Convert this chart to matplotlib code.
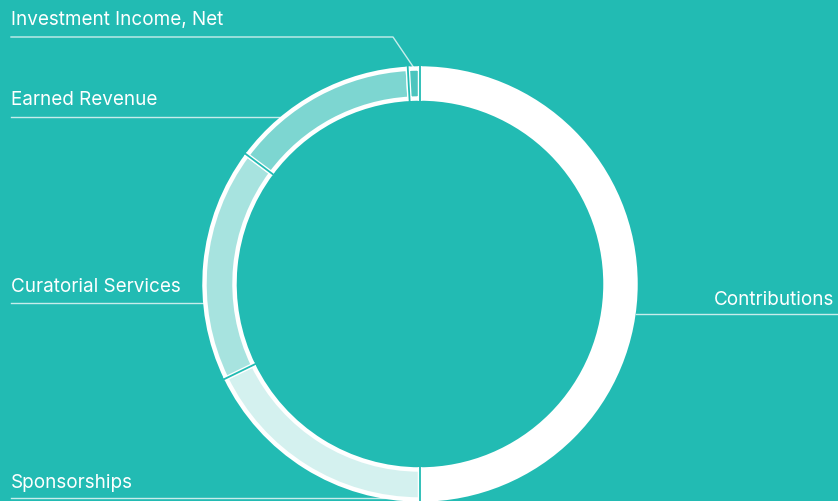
import matplotlib.pyplot as plt
import numpy as np

# revenue breakdown, clockwise from 12 o'clock
labels = ['Contributions', 'Sponsorships', 'Curatorial Services', 'Earned Revenue', 'Investment Income, Net']
shares = [50.0, 17.8, 17.4, 13.9, 0.9]
colors = ['#ffffff', '#d4f1ef', '#a7e3df', '#7dd6d1', '#4cc5be']

bg = '#22bbb3'
W, H = 838, 502

plt.rcParams['font.family'] = ['Inter', 'DejaVu Sans']

fig = plt.figure(figsize=(W / 100, H / 100), dpi=100, facecolor=bg)
ax = fig.add_axes([0, 0, 1, 1])
ax.set_facecolor(bg)

cx, cy, r, w = 420, H - 285, 215.5, 30
wedges, _ = ax.pie(shares, colors=colors, startangle=90, counterclock=False,
                   center=(cx, cy), radius=r,
                   wedgeprops=dict(width=w, edgecolor='white', linewidth=3.2))

# thin gaps between segments
for wd in wedges:
    a = np.deg2rad(wd.theta1)
    ax.plot([cx + (r - w - 3) * np.cos(a), cx + (r + 3) * np.cos(a)],
            [cy + (r - w - 3) * np.sin(a), cy + (r + 3) * np.sin(a)],
            color=bg, lw=1.3, solid_capstyle='butt')

ax.set_xlim(0, W)
ax.set_ylim(0, H)
ax.set_aspect('equal')
ax.axis('off')

line_kw = dict(color='white', lw=1, alpha=0.75)
txt_kw = dict(color='white', fontsize=13.6)


def yy(p):
    return H - p


ax.text(11, yy(25), labels[4], ha='left', va='baseline', **txt_kw)
ax.plot([11, 393, 414], [yy(38), yy(38), yy(69)], **line_kw)

ax.text(11, yy(105), labels[3], ha='left', va='baseline', **txt_kw)
ax.plot([11, 282], [yy(118), yy(118)], **line_kw)

ax.text(11, yy(292), labels[2], ha='left', va='baseline', **txt_kw)
ax.plot([11, 205], [yy(304), yy(304)], **line_kw)

ax.text(834, yy(305), labels[0], ha='right', va='baseline', **txt_kw)
ax.plot([636, 838], [yy(315), yy(315)], **line_kw)

ax.text(11, yy(488), labels[1], ha='left', va='baseline', **txt_kw)
ax.plot([11, 412], [yy(499), yy(499)], **line_kw)

fig.savefig('out.png', dpi=100, facecolor=bg)
